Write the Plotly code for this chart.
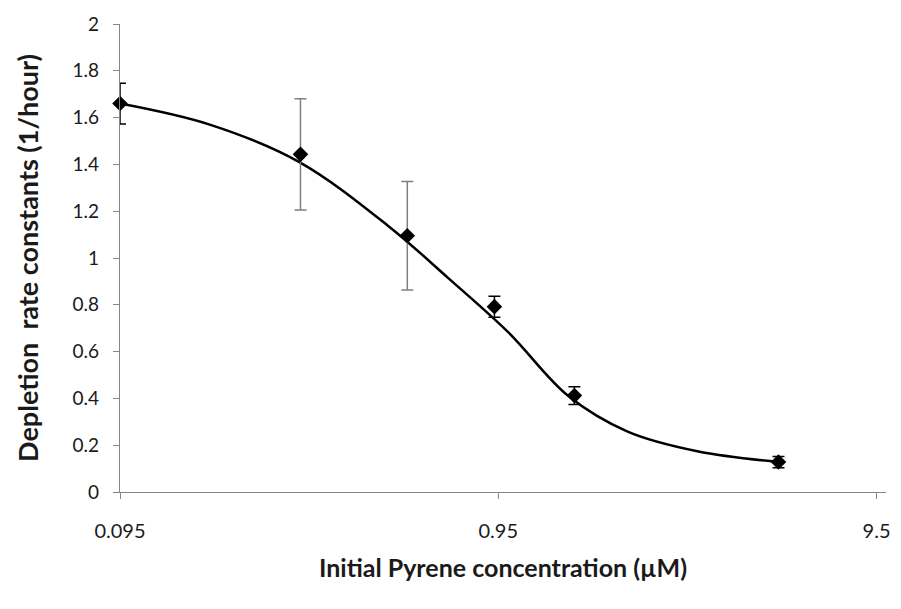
import math
import plotly.graph_objects as go

# measured data (concentration in µM, depletion rate constant in 1/hour)
conc = [0.095, 0.285, 0.546, 0.928, 1.51, 5.23]
rate = [1.66, 1.443, 1.095, 0.792, 0.412, 0.128]
err = [0.087, 0.238, 0.232, 0.045, 0.038, 0.024]

# fitted curve
fit_conc = [0.095, 0.164, 0.283, 0.488, 0.702, 1.009, 1.453, 2.088, 3.192, 5.23]
fit_rate = [1.66, 1.57, 1.41, 1.135, 0.913, 0.683, 0.411, 0.258, 0.174, 0.128]

x_ticks = [0.095, 0.95, 9.5]
x_tick_text = ["0.095", "0.95", "9.5"]
y_ticks = [0, 0.2, 0.4, 0.6, 0.8, 1, 1.2, 1.4, 1.6, 1.8, 2]
y_tick_text = ["0", "0.2", "0.4", "0.6", "0.8", "1", "1.2", "1.4", "1.6", "1.8", "2"]

FONT = "Lato, 'Open Sans', Arial, sans-serif"
AXIS = "#868686"

fig = go.Figure()
fig.add_trace(go.Scatter(
    x=fit_conc, y=fit_rate, mode="lines",
    line=dict(color="black", width=2.5, shape="spline", smoothing=1.0),
    hoverinfo="skip", showlegend=False, cliponaxis=False))

black_idx = [0, 3, 4, 5]
grey_idx = [1, 2]
for idx, col in ((black_idx, "black"), (grey_idx, "#7f7f7f")):
    fig.add_trace(go.Scatter(
        x=[conc[i] for i in idx], y=[rate[i] for i in idx], mode="markers",
        marker=dict(symbol="diamond", size=12, color="black"),
        error_y=dict(type="data", array=[err[i] for i in idx], visible=True,
                     color=col, thickness=1.5, width=6),
        showlegend=False, cliponaxis=False))

xr0 = math.log10(0.095)
xr1 = math.log10(9.5) + 9.5 / 380
fig.update_layout(
    width=901, height=609,
    margin=dict(l=120, r=11, t=24, b=117),
    paper_bgcolor="white", plot_bgcolor="white",
    font=dict(family=FONT, color="#1a1a1a", size=19),
    xaxis=dict(type="log", range=[xr0, xr1], tickvals=x_ticks, ticktext=x_tick_text,
               showline=True, linecolor=AXIS, linewidth=1.3, showgrid=False, zeroline=False,
               ticks="outside", ticklen=6, tickcolor=AXIS, tickwidth=1.3,
               tickfont=dict(size=20), ticklabelstandoff=15,
               title=dict(text="<b>Initial Pyrene concentration (µM)</b>",
                          font=dict(size=25, family=FONT), standoff=18)),
    yaxis=dict(range=[0, 2], tickvals=y_ticks, ticktext=y_tick_text,
               showline=True, linecolor=AXIS, linewidth=1.3, showgrid=False, zeroline=False,
               ticks="outside", ticklen=6, tickcolor=AXIS, tickwidth=1.3,
               tickfont=dict(size=19), ticklabelstandoff=10,
               title=dict(text="<b>Depletion\u00a0 rate constants (1/hour)</b>",
                          font=dict(size=27, family=FONT), standoff=26)),
)

fig.write_html("out.html")
